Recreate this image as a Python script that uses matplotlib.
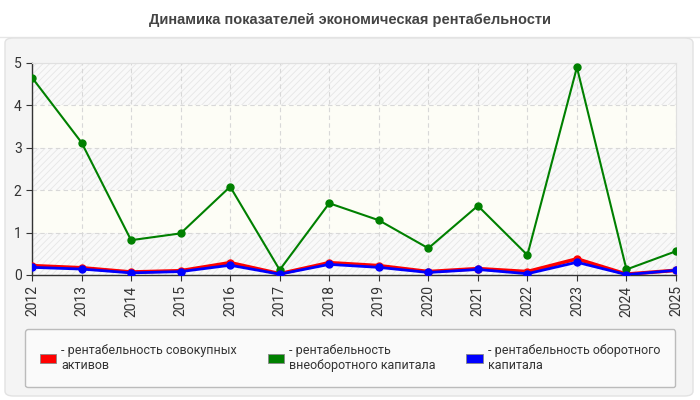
import matplotlib
matplotlib.use("Agg")
import matplotlib.pyplot as plt
from matplotlib.patches import FancyBboxPatch, Patch
from matplotlib.lines import Line2D

years = [2012, 2013, 2014, 2015, 2016, 2017, 2018, 2019, 2020, 2021, 2022, 2023, 2024, 2025]
total_assets = [0.22, 0.17, 0.07, 0.10, 0.29, 0.03, 0.29, 0.22, 0.08, 0.15, 0.08, 0.38, 0.02, 0.11]
noncurrent = [4.65, 3.12, 0.82, 0.98, 2.08, 0.12, 1.69, 1.29, 0.63, 1.63, 0.47, 4.89, 0.13, 0.56]
current = [0.18, 0.14, 0.05, 0.08, 0.23, 0.02, 0.25, 0.18, 0.06, 0.13, 0.03, 0.30, 0.01, 0.11]
labels = ["- рентабельность совокупных\nактивов",
          "- рентабельность\nвнеоборотного капитала",
          "- рентабельность оборотного\nкапитала"]
colors = ["#ff0000", "#008000", "#0000ff"]
title = "Динамика показателей экономическая рентабельности"

plt.rcParams['font.family'] = ['Roboto', 'DejaVu Sans']
plt.rcParams['hatch.linewidth'] = 0.6

fig = plt.figure(figsize=(7, 4), dpi=100)
fig.patch.set_facecolor("white")

# outer panel
panel = FancyBboxPatch((5/700, 4/400), 688/700, 358/400,
                       boxstyle="round,pad=0,rounding_size=0.012",
                       transform=fig.transFigure, facecolor="#f4f4f4",
                       edgecolor="#e2e2e2", linewidth=1, zorder=-10)
fig.patches.append(panel)
fig.add_artist(Line2D([0, 1], [1 - 37/400, 1 - 37/400], transform=fig.transFigure,
                      color="#e6e6e6", linewidth=1, zorder=-10))

fig.text(0.5, 1 - 20/400, title, ha="center", va="center", fontsize=10.5,
         fontweight="bold", color="#444444", family=['Liberation Sans', 'DejaVu Sans'])

ax = fig.add_axes([32/700, 1 - 275/400, 644/700, (275 - 62.7)/400])
ax.set_zorder(1)
ax.set_facecolor("#fdfdf7")
ax.set_xlim(years[0], years[-1])
ax.set_ylim(0, 5)

for k in range(5):
    if k % 2 == 0:
        ax.axhspan(k, k + 1, facecolor="#f9f9f9", edgecolor="#e6e6e6",
                   hatch="/////", linewidth=0, zorder=0)
    else:
        ax.axhspan(k, k + 1, facecolor="#fdfdf6", linewidth=0, zorder=0)

ax.grid(True, color="#d8d8d8", linestyle=(0, (4, 3)), linewidth=0.8)
ax.set_axisbelow(True)

ax.plot(years, total_assets, color=colors[0], linewidth=2.6, marker="o", markersize=5, zorder=3)
ax.plot(years, noncurrent, color=colors[1], linewidth=1.5, marker="o", markersize=5, zorder=4)
ax.plot(years, current, color=colors[2], linewidth=2.0, marker="o", markersize=5, zorder=5)

ax.set_xticks(years)
ax.set_xticklabels([str(y) for y in years], rotation=90, fontsize=10, color="#333333")
ax.set_yticks(range(6))
ax.tick_params(axis="y", labelsize=10, colors="#333333", length=4)
ax.tick_params(axis="x", length=4, colors="#333333")
for s in ["top", "right"]:
    ax.spines[s].set_color("#e0e0e0")
for s in ["left", "bottom"]:
    ax.spines[s].set_color("#333333")
    ax.spines[s].set_linewidth(1)

handles = [Patch(facecolor=c, edgecolor="#888888", linewidth=0.6) for c in colors]
leg = fig.legend(handles, labels, ncol=3, loc="upper left",
                 bbox_to_anchor=(25/700, 1 - 383/400, 650/700, 54/400),
                 mode="expand", fontsize=9, frameon=True, fancybox=True,
                 handlelength=1.3, handleheight=0.7, handletextpad=0.4,
                 borderpad=1.2, borderaxespad=0, columnspacing=1.0,
                 labelcolor="#333333")
for t in leg.get_texts():
    t.set_linespacing(1.2)
leg.get_frame().set_facecolor("#fafafa")
leg.get_frame().set_edgecolor("#bbbbbb")
leg.get_frame().set_alpha(1)
leg.set_zorder(2)

fig.savefig("out.png", dpi=100)
